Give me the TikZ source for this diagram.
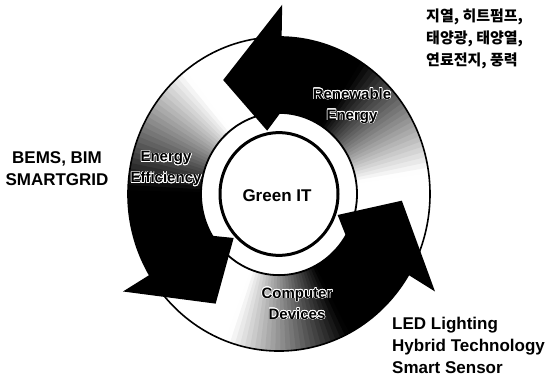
\documentclass[tikz,border=0pt]{standalone}
\usepackage{fontspec}
\setmainfont{Liberation Sans}
\newfontfamily\kr{Noto Sans CJK KR}
\usepackage[copies]{contour}
\contourlength{0.6pt}
\newcommand\hal[1]{\contour{white}{#1}}
\tikzset{
  side/.style={font=\bfseries\fontsize{17}{22}\selectfont, align=center, inner sep=0pt},
  inlab/.style={font=\bfseries\fontsize{15}{21}\selectfont, align=center, inner sep=0pt},
  ringline/.style={line width=1.6pt},
}
\begin{document}
\begin{tikzpicture}[x=1pt,y=-1pt]
\useasboundingbox (0,0) rectangle (552,382);
\fill[white] (0,0) rectangle (552,382);
\begin{scope}[shift={(279,194)}, x=1pt, y=1pt, yscale=1.04]
  % arrow bodies with angular gradient
  \foreach \t/\e in {-26/89, 94/211, 216/329} {
    \pgfmathsetmacro\spn{\e-\t}
    \foreach \i in {0,...,57} {
      \pgfmathsetmacro\myA{\t+\i*\spn/58}
      \pgfmathsetmacro\myB{\myA+\spn/58+0.6}
      \pgfmathsetmacro\myK{max(0,min(100,((\i+0.5)/58-0.3)/0.42*100))}
      \fill[black!\myK] (\myA:151) -- (\myB:151) -- (\myB:78) -- (\myA:78) -- cycle;
    }
  }
  % ring outlines
  \draw[ringline] (0,0) circle[radius=151pt];
  \draw[line width=1.8pt] (0,0) circle[radius=78pt];
  % arrow heads
  \foreach \e in {89,211,329} {
    \fill[black] (\e:151) -- (\e:182) -- ({\e+28}:123) -- ({\e+12}:62) -- (\e:78) -- cycle;
  }
  % centre circle
  \draw[line width=3pt, fill=white] (0,0) circle[radius=59pt];
\end{scope}
\node[side] (green) at (277,196) {Green IT};
\node[inlab] (ren) at (352,106) {\hal{Renewable}\\\hal{Energy}};
\node[inlab] (eff) at (166,169) {\hal{Energy}\\\hal{Efficiency}};
\node[inlab] (dev) at (297,304) {\hal{Computer}\\\hal{Devices}};
\node[side] (bems) at (57,169) {BEMS, BIM\\SMARTGRID};
\node[side, align=left, anchor=west] (led) at (392,345) {LED Lighting\\Hybrid Technology\\Smart Sensor};
\node[font=\kr\bfseries\fontsize{15}{22}\selectfont, align=left, anchor=north west, inner sep=0pt] (kor) at (426,9) {지열, 히트펌프,\\태양광, 태양열,\\연료전지, 풍력};
\end{tikzpicture}
\end{document}
